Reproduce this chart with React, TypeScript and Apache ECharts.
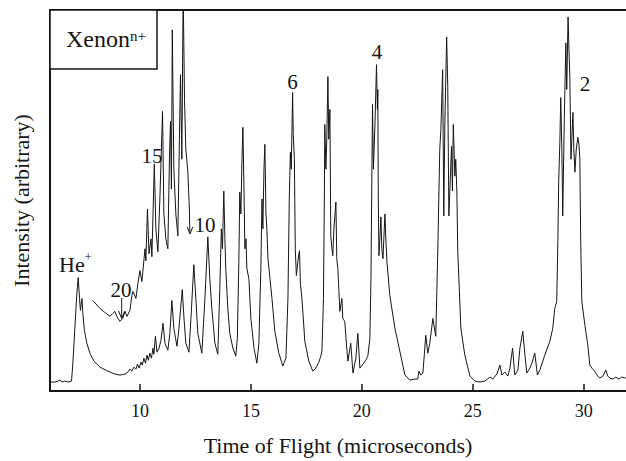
import React, { useEffect, useRef } from "react";
import * as echarts from "echarts";

// Time of flight (microseconds) vs intensity (arbitrary, 0-100 full scale)
const mainTrace: [number, number][] = [
  [5.95, 2.35], [6.17, 2.35], [6.31, 2.61], [6.40, 2.87], [6.49, 2.35], [6.62, 2.61], [6.76, 2.35], [6.92, 2.61],
  [6.98, 7.31], [7.07, 16.45], [7.16, 25.59], [7.22, 29.77], [7.28, 24.28], [7.32, 21.15], [7.39, 24.28], [7.43, 20.37],
  [7.50, 15.93], [7.61, 12.53], [7.75, 9.92], [7.93, 7.83], [8.20, 6.27], [8.56, 5.22], [8.87, 4.44], [9.10, 4.18],
  [9.33, 4.44], [9.46, 4.96], [9.55, 5.74], [9.64, 5.22], [9.73, 6.27], [9.82, 5.74], [9.89, 7.05], [9.96, 6.01],
  [10.05, 7.57], [10.11, 6.79], [10.18, 8.62], [10.25, 7.31], [10.32, 9.40], [10.38, 8.09], [10.45, 9.92], [10.52, 8.62],
  [10.59, 11.23], [10.63, 9.66], [10.70, 14.36], [10.77, 10.18], [10.86, 11.23], [10.95, 13.32], [11.04, 17.75], [11.13, 12.53],
  [11.26, 10.70], [11.35, 15.14], [11.44, 23.76], [11.53, 16.45], [11.67, 11.75], [11.76, 16.45], [11.91, 26.63], [11.98, 19.58],
  [12.07, 12.53], [12.21, 10.18], [12.30, 19.06], [12.43, 33.16], [12.52, 24.28], [12.61, 15.14], [12.79, 9.92], [12.93, 24.28],
  [13.06, 40.47], [13.15, 29.50], [13.24, 21.67], [13.38, 12.53], [13.51, 9.66], [13.60, 26.89], [13.67, 42.56], [13.72, 37.34],
  [13.78, 52.48], [13.83, 39.95], [13.87, 32.11], [13.96, 21.67], [14.05, 15.14], [14.19, 11.23], [14.32, 9.14], [14.39, 13.84],
  [14.46, 34.73], [14.50, 52.22], [14.55, 46.48], [14.60, 60.84], [14.64, 69.19], [14.69, 53.00], [14.73, 37.34], [14.78, 39.95],
  [14.82, 32.11], [14.91, 29.50], [15.00, 19.06], [15.14, 11.23], [15.27, 7.31], [15.36, 12.53], [15.45, 32.11], [15.50, 50.39],
  [15.54, 42.56], [15.59, 58.22], [15.63, 64.75], [15.68, 46.48], [15.72, 42.56], [15.77, 34.73], [15.86, 29.50], [15.95, 24.28],
  [16.08, 15.67], [16.26, 9.92], [16.44, 6.53], [16.58, 8.62], [16.67, 24.28], [16.73, 50.39], [16.78, 62.66], [16.82, 58.22],
  [16.88, 78.33], [16.91, 67.36], [16.96, 60.84], [17.00, 37.34], [17.05, 30.29], [17.12, 34.20], [17.19, 36.81], [17.23, 28.20],
  [17.30, 24.28], [17.43, 13.05], [17.61, 7.83], [17.79, 5.22], [17.93, 6.01], [18.06, 7.57], [18.15, 9.14], [18.20, 10.44],
  [18.27, 24.28], [18.31, 50.39], [18.33, 69.97], [18.38, 58.22], [18.42, 66.06], [18.47, 82.51], [18.51, 66.06], [18.56, 73.89],
  [18.60, 40.73], [18.65, 37.34], [18.69, 35.51], [18.74, 42.56], [18.83, 49.61], [18.87, 34.73], [18.92, 32.11], [18.96, 26.89],
  [19.01, 20.89], [19.10, 24.28], [19.14, 19.06], [19.23, 18.28], [19.32, 11.23], [19.37, 7.83], [19.50, 12.53], [19.60, 4.70],
  [19.73, 8.62], [19.82, 15.14], [19.91, 6.01], [20.05, 7.05], [20.18, 8.09], [20.27, 9.14], [20.36, 13.84], [20.41, 29.50],
  [20.48, 75.20], [20.52, 58.22], [20.59, 69.97], [20.66, 85.64], [20.70, 73.89], [20.72, 79.11], [20.74, 50.39], [20.77, 35.51],
  [20.86, 45.69], [20.90, 37.34], [20.95, 34.73], [21.04, 46.48], [21.08, 39.95], [21.13, 33.94], [21.26, 25.07], [21.49, 16.45],
  [21.71, 10.44], [21.94, 4.18], [22.16, 2.87], [22.39, 3.13], [22.52, 3.13], [22.57, 5.22], [22.66, 4.18], [22.75, 4.70],
  [22.88, 14.62], [22.97, 9.92], [23.06, 12.53], [23.20, 19.06], [23.33, 14.36], [23.42, 36.55], [23.51, 63.45], [23.56, 68.67],
  [23.64, 84.33], [23.69, 45.95], [23.74, 70.76], [23.82, 92.95], [23.87, 79.90], [23.92, 45.95], [24.04, 64.23], [24.08, 52.48],
  [24.12, 69.97], [24.19, 56.40], [24.23, 60.84], [24.28, 52.22], [24.32, 36.55], [24.39, 26.89], [24.46, 16.45], [24.64, 9.40],
  [24.87, 3.92], [25.09, 2.61], [25.32, 2.35], [25.54, 2.61], [25.77, 3.66], [25.90, 3.13], [26.08, 4.44], [26.22, 6.79],
  [26.31, 4.18], [26.44, 4.96], [26.58, 3.92], [26.67, 6.01], [26.79, 11.23], [26.89, 4.18], [27.03, 5.48], [27.12, 11.23],
  [27.25, 15.67], [27.34, 9.92], [27.43, 4.70], [27.57, 6.01], [27.66, 7.31], [27.79, 9.92], [27.91, 4.18], [28.02, 5.48],
  [28.24, 9.40], [28.47, 13.05], [28.60, 16.45], [28.69, 21.67], [28.78, 23.50], [28.83, 39.16], [28.87, 55.61], [28.92, 65.27],
  [28.96, 77.02], [29.01, 63.45], [29.05, 45.95], [29.12, 71.28], [29.19, 91.38], [29.23, 79.11], [29.29, 98.17], [29.33, 89.56],
  [29.37, 82.51], [29.42, 60.84], [29.46, 66.06], [29.51, 73.11], [29.55, 63.45], [29.60, 57.44], [29.66, 63.45], [29.73, 66.58],
  [29.78, 64.75], [29.82, 60.84], [29.86, 39.16], [29.91, 23.50], [30.05, 17.23], [30.18, 12.01], [30.27, 6.79], [30.36, 6.01],
  [30.45, 5.48], [30.54, 4.70], [30.63, 3.92], [30.72, 3.39], [30.86, 3.92], [30.99, 5.48], [31.08, 3.92], [31.17, 3.39],
  [31.31, 3.13], [31.44, 3.66], [31.58, 3.13], [31.71, 3.66], [31.89, 3.39],
];

// Magnified, offset trace of the high charge states (n = 20 ... 10)
const magnifiedTrace: [number, number][] = [
  [7.88, 23.76], [8.20, 21.67], [8.42, 20.63], [8.65, 19.58], [8.78, 20.37], [8.87, 20.89], [8.96, 19.58], [9.10, 18.28],
  [9.23, 19.06], [9.33, 20.89], [9.42, 19.58], [9.55, 21.15], [9.64, 25.07], [9.69, 26.11], [9.82, 24.28], [9.91, 28.20],
  [10.00, 31.59], [10.09, 28.72], [10.23, 37.34], [10.27, 34.20], [10.34, 47.78], [10.41, 36.03], [10.50, 39.95], [10.54, 35.25],
  [10.65, 59.53], [10.72, 42.56], [10.81, 36.55], [10.90, 50.39], [11.02, 73.37], [11.08, 46.48], [11.17, 39.95], [11.26, 37.34],
  [11.33, 60.84], [11.38, 70.76], [11.42, 53.00], [11.46, 94.78], [11.53, 58.22], [11.62, 46.48], [11.71, 40.73], [11.78, 66.06],
  [11.83, 83.03], [11.89, 60.84], [11.95, 105.0], [12.01, 76.50], [12.07, 63.45], [12.16, 57.44], [12.23, 47.78], [12.25, 41.78],
];

const xTicks = [10, 15, 20, 25, 30];
const X_MIN = 5.95;
const X_MAX = 31.9;

const SERIF = "'Liberation Serif', 'Times New Roman', serif";
const INK = "#161616";

export default function App() {
  const ref = useRef<HTMLDivElement>(null);

  useEffect(() => {
    if (!ref.current) return;
    const chart = echarts.init(ref.current, null, { renderer: "svg" });

    const label = (text: string, x: number, y: number, size: number) => ({
      type: "text",
      x,
      y,
      style: {
        text,
        fill: INK,
        font: `${size}px ${SERIF}`,
        textAlign: "center",
        textVerticalAlign: "middle",
      },
    });

    chart.setOption({
      animation: false,
      backgroundColor: "#ffffff",
      grid: { left: 50, right: 0, top: 10, bottom: 68 },
      xAxis: [
        {
          type: "value",
          min: X_MIN,
          max: X_MAX,
          position: "bottom",
          axisLine: { show: true, onZero: false, lineStyle: { color: INK, width: 2 } },
          axisTick: {
            show: true,
            inside: true,
            length: 7,
            customValues: xTicks,
            lineStyle: { color: INK, width: 1.5 },
          },
          axisLabel: {
            customValues: xTicks,
            color: INK,
            fontFamily: SERIF,
            fontSize: 18,
            margin: 11,
          },
          splitLine: { show: false },
          name: "Time of Flight (microseconds)",
          nameLocation: "middle",
          nameGap: 43,
          nameTextStyle: { color: INK, fontFamily: SERIF, fontSize: 22 },
        },
        {
          type: "value",
          min: X_MIN,
          max: X_MAX,
          position: "top",
          axisLine: { show: true, onZero: false, lineStyle: { color: INK, width: 2 } },
          axisTick: { show: false },
          axisLabel: { show: false },
          splitLine: { show: false },
        },
      ],
      yAxis: {
        type: "value",
        min: 0,
        max: 100,
        axisLine: { show: true, onZero: false, lineStyle: { color: INK, width: 2 } },
        axisTick: { show: false },
        axisLabel: { show: false },
        splitLine: { show: false },
        name: "Intensity (arbitrary)",
        nameLocation: "middle",
        nameRotate: 90,
        nameGap: 18,
        nameTextStyle: { color: INK, fontFamily: SERIF, fontSize: 22 },
      },
      series: [
        {
          type: "line",
          data: mainTrace,
          showSymbol: false,
          symbol: "none",
          clip: true,
          lineStyle: { color: INK, width: 1 },
        },
        {
          type: "line",
          data: magnifiedTrace,
          showSymbol: false,
          symbol: "none",
          clip: true,
          lineStyle: { color: INK, width: 1 },
        },
      ],
      graphic: [
        {
          type: "rect",
          shape: { x: 50, y: 10, width: 107, height: 59 },
          style: { fill: "#ffffff", stroke: INK, lineWidth: 1.5 },
          z: 100,
        },
        {
          type: "text",
          x: 66,
          y: 39,
          z: 101,
          style: { text: "Xenon", fill: INK, font: `24px ${SERIF}`, textAlign: "left", textVerticalAlign: "middle" },
        },
        {
          type: "text",
          x: 130,
          y: 36,
          z: 101,
          style: { text: "n+", fill: INK, font: `15px ${SERIF}`, textAlign: "left", textVerticalAlign: "middle" },
        },
        {
          type: "text",
          x: 59,
          y: 264,
          style: { text: "He", fill: INK, font: `22px ${SERIF}`, textAlign: "left", textVerticalAlign: "middle" },
        },
        {
          type: "text",
          x: 84.5,
          y: 256,
          style: { text: "+", fill: INK, font: `13px ${SERIF}`, textAlign: "left", textVerticalAlign: "middle" },
        },
        label("20", 121, 290, 21),
        {
          type: "line",
          shape: { x1: 121.7, y1: 298, x2: 121.7, y2: 318 },
          style: { stroke: INK, lineWidth: 1 },
        },
        {
          type: "polyline",
          shape: { points: [[118.5, 311], [121.7, 318.5], [124.9, 311]] },
          style: { stroke: INK, lineWidth: 1, fill: "none" },
        },
        label("15", 152, 156, 21),
        label("10", 205, 225, 21),
        {
          type: "polyline",
          shape: { points: [[187.3, 227], [190, 234], [192.7, 227]] },
          style: { stroke: INK, lineWidth: 1, fill: "none" },
        },
        label("6", 292.5, 81.5, 21),
        label("4", 377, 51.5, 21),
        label("2", 585, 84, 21),
      ],
    });

    return () => chart.dispose();
  }, []);

  return (
    <div
      ref={ref}
      style={{ position: "fixed", left: 0, top: 0, width: 626, height: 461, background: "#fff" }}
    />
  );
}
